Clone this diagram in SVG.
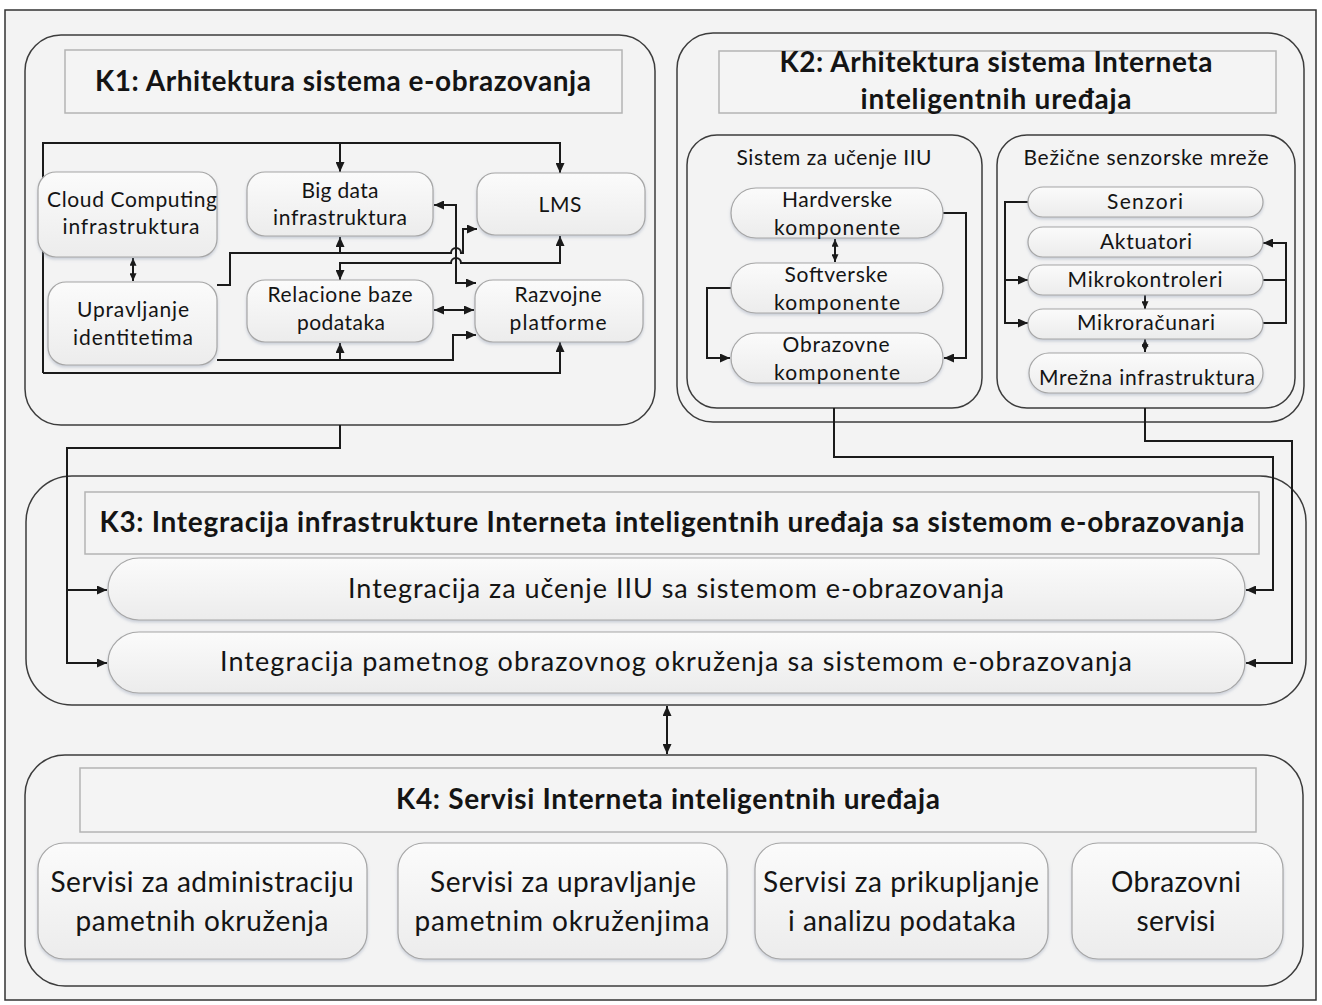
<svg xmlns="http://www.w3.org/2000/svg" width="1322" height="1005" viewBox="0 0 1322 1005">
<defs>
  <linearGradient id="nodeFill" x1="0" y1="0" x2="0" y2="1">
    <stop offset="0" stop-color="#fbfbfb"/>
    <stop offset="1" stop-color="#ececec"/>
  </linearGradient>
  <filter id="shadow" x="-5%" y="-10%" width="110%" height="130%">
    <feDropShadow dx="0" dy="2" stdDeviation="1.5" flood-color="#7d8aa6" flood-opacity="0.35"/>
  </filter>
  <marker id="ah" viewBox="0 0 10 9" refX="10" refY="4.5" markerUnits="userSpaceOnUse" markerWidth="10" markerHeight="9" orient="auto-start-reverse">
    <path d="M0,0 L10,4.5 L0,9 z" fill="#1a1a1a"/>
  </marker>
  <marker id="as" viewBox="0 0 10 9" refX="10" refY="4.5" markerUnits="userSpaceOnUse" markerWidth="8" markerHeight="7" orient="auto-start-reverse">
    <path d="M0,0 L10,4.5 L0,9 z" fill="#1a1a1a"/>
  </marker>
</defs>
<style>
  .frame { fill: #f3f3f3; stroke: #333333; stroke-width: 1.5; }
  .cont { fill: #f3f3f3; stroke: #3c3c3c; stroke-width: 1.5; }
  .sub { fill: #f3f3f3; stroke: #3c3c3c; stroke-width: 1.5; }
  .title { fill: #f4f4f4; stroke: #b4b4b4; stroke-width: 1.5; }
  .node { fill: url(#nodeFill); stroke: #a6a6a6; stroke-width: 1.2; filter: url(#shadow); }
  .conn path { fill: none; stroke: #1a1a1a; stroke-width: 2; }
  text { font-family: Lato, "Open Sans", "Liberation Sans", sans-serif; fill: #141414; text-anchor: middle; }
  .th { font-size: 28px; font-weight: bold; }
  .tm { font-size: 27px; }
  .ts { font-size: 28px; }
  .t1 { font-size: 21px; }
  .t2 { font-size: 21px; }
</style>

<rect class="frame" x="5" y="10" width="1311" height="990"/>

<!-- Containers -->
<g id="K1">
  <rect class="cont" x="25" y="35" width="630" height="390" rx="36"/>
  <rect class="title" x="65" y="50" width="557" height="63"/>
  <text class="th" x="343" y="91" textLength="496">K1: Arhitektura sistema e-obrazovanja</text>
</g>
<g id="K2">
  <rect class="cont" x="677" y="33" width="627" height="389" rx="36"/>
  <rect class="title" x="719" y="51" width="557" height="62"/>
  <text class="th" x="996" y="72" textLength="433">K2: Arhitektura sistema Interneta</text>
  <text class="th" x="996" y="109" textLength="271">inteligentnih uređaja</text>
</g>
<g id="K2a">
  <rect class="sub" x="687" y="135" width="295" height="273" rx="30"/>
  <text class="t2" x="834" y="165" textLength="195">Sistem za učenje IIU</text>
</g>
<g id="K2b">
  <rect class="sub" x="997" y="135" width="298" height="273" rx="30"/>
  <text class="t2" x="1146" y="165" textLength="245">Bežične senzorske mreže</text>
</g>
<g id="K3">
  <rect class="cont" x="26" y="476" width="1280" height="229" rx="46"/>
  <rect class="title" x="85" y="492" width="1174" height="62"/>
  <text class="th" x="672" y="532" textLength="1145">K3: Integracija infrastrukture Interneta inteligentnih uređaja sa sistemom e-obrazovanja</text>
</g>
<g id="K4">
  <rect class="cont" x="25" y="755" width="1278" height="231" rx="40"/>
  <rect class="title" x="80" y="768" width="1176" height="64"/>
  <text class="th" x="668" y="809" textLength="544">K4: Servisi Interneta inteligentnih uređaja</text>
</g>

<!-- Connectors -->
<g id="connectors" class="conn">
  <!-- K1 internal -->
  <path d="M43,373 V143 H560 V173" marker-end="url(#ah)"/>
  <path d="M340,143 V172" marker-end="url(#ah)"/>
  <path d="M43,373 H560 V342" marker-end="url(#ah)"/>
  <path d="M217,285 H230 V253 H451 A5,5 0 0 1 461,253 H463 V229 H477" marker-end="url(#ah)"/>
  <path d="M340,253 V237" marker-end="url(#ah)"/>
  <path d="M340,280 V263 H451 A5,5 0 0 1 461,263 H560 V236" marker-start="url(#ah)" marker-end="url(#ah)"/>
  <path d="M434,205 H456 V283 H476" marker-start="url(#ah)" marker-end="url(#ah)"/>
  <path d="M434,310 H474" marker-start="url(#ah)" marker-end="url(#ah)"/>
  <path d="M217,360 H453 V335 H476" marker-end="url(#ah)"/>
  <path d="M340,360 V343" marker-end="url(#ah)"/>
  <path d="M133,258 V281" marker-start="url(#as)" marker-end="url(#as)"/>
  <!-- K2 internal -->
  <path d="M835,239 V262" marker-start="url(#as)" marker-end="url(#as)"/>
  <path d="M943,213 H966 V358 H944" marker-end="url(#ah)"/>
  <path d="M731,288 H707 V358 H730" marker-end="url(#ah)"/>
  <path d="M1028,202 H1005 V323 H1028" marker-end="url(#ah)"/>
  <path d="M1005,280 H1028" marker-end="url(#ah)"/>
  <path d="M1263,280 H1286"/>
  <path d="M1263,323 H1286 V243 H1263" marker-end="url(#ah)"/>
  <path d="M1145,295 V309" marker-end="url(#as)"/>
  <path d="M1145,339 V352" marker-start="url(#as)" marker-end="url(#as)"/>
  <!-- K1/K2 to K3 -->
  <path d="M340,425 V448 H67 V663 H107" marker-end="url(#ah)"/>
  <path d="M67,590 H107" marker-end="url(#ah)"/>
  <path d="M834,408 V457 H1273 V590 H1246" marker-end="url(#ah)"/>
  <path d="M1145,408 V441 H1292 V663 H1246" marker-end="url(#ah)"/>
  <!-- K3 <-> K4 -->
  <path d="M667,706 V754" marker-start="url(#ah)" marker-end="url(#ah)"/>
</g>

<!-- K1 nodes -->
<g id="cloud">
  <rect class="node" x="38" y="172" width="179" height="85" rx="18"/>
  <text class="t1" x="132" y="207" textLength="170">Cloud Computing</text>
  <text class="t1" x="131" y="234" textLength="137">infrastruktura</text>
</g>
<g id="upravljanje">
  <rect class="node" x="48" y="282" width="169" height="83" rx="18"/>
  <text class="t1" x="133" y="317" textLength="112">Upravljanje</text>
  <text class="t1" x="133" y="345" textLength="120">identitetima</text>
</g>
<g id="bigdata">
  <rect class="node" x="247" y="172" width="186" height="64" rx="18"/>
  <text class="t1" x="340" y="198" textLength="77">Big data</text>
  <text class="t1" x="340" y="225" textLength="134">infrastruktura</text>
</g>
<g id="lms">
  <rect class="node" x="477" y="173" width="168" height="62" rx="18"/>
  <text class="t1" x="560" y="212" textLength="43">LMS</text>
</g>
<g id="relacione">
  <rect class="node" x="247" y="280" width="186" height="62" rx="18"/>
  <text class="t1" x="340" y="302" textLength="145">Relacione baze</text>
  <text class="t1" x="341" y="330" textLength="88">podataka</text>
</g>
<g id="razvojne">
  <rect class="node" x="475" y="280" width="168" height="62" rx="18"/>
  <text class="t1" x="558" y="302" textLength="87">Razvojne</text>
  <text class="t1" x="558" y="330" textLength="97">platforme</text>
</g>

<!-- K2 nodes -->
<g id="hardverske">
  <rect class="node" x="731" y="188" width="212" height="50" rx="25"/>
  <text class="t2" x="837" y="207" textLength="110">Hardverske</text>
  <text class="t2" x="837" y="235" textLength="126">komponente</text>
</g>
<g id="softverske">
  <rect class="node" x="731" y="263" width="212" height="50" rx="25"/>
  <text class="t2" x="836" y="282" textLength="103">Softverske</text>
  <text class="t2" x="837" y="310" textLength="126">komponente</text>
</g>
<g id="obrazovne">
  <rect class="node" x="731" y="333" width="212" height="50" rx="25"/>
  <text class="t2" x="836" y="352" textLength="107">Obrazovne</text>
  <text class="t2" x="837" y="380" textLength="126">komponente</text>
</g>
<g id="senzori">
  <rect class="node" x="1028" y="187" width="235" height="30" rx="15"/>
  <text class="t2" x="1145" y="209" textLength="76">Senzori</text>
</g>
<g id="aktuatori">
  <rect class="node" x="1028" y="227" width="235" height="30" rx="15"/>
  <text class="t2" x="1146" y="249" textLength="92">Aktuatori</text>
</g>
<g id="mikrokontroleri">
  <rect class="node" x="1028" y="265" width="235" height="30" rx="15"/>
  <text class="t2" x="1145" y="287" textLength="155">Mikrokontroleri</text>
</g>
<g id="mikroracunari">
  <rect class="node" x="1028" y="309" width="235" height="30" rx="15"/>
  <text class="t2" x="1146" y="330" textLength="138">Mikroračunari</text>
</g>
<g id="mrezna">
  <rect class="node" x="1029" y="353" width="234" height="40" rx="20"/>
  <text class="t2" x="1147" y="385" textLength="216">Mrežna infrastruktura</text>
</g>

<!-- K3 nodes -->
<g id="integracija-iiu">
  <rect class="node" x="108" y="558" width="1137" height="62" rx="31"/>
  <text class="tm" x="676" y="598" textLength="656">Integracija za učenje IIU sa sistemom e-obrazovanja</text>
</g>
<g id="integracija-pametnog">
  <rect class="node" x="108" y="632" width="1137" height="61" rx="31"/>
  <text class="tm" x="676" y="671" textLength="912">Integracija pametnog obrazovnog okruženja sa sistemom e-obrazovanja</text>
</g>

<!-- K4 nodes -->
<g id="servis-admin">
  <rect class="node" x="38" y="843" width="329" height="116" rx="26"/>
  <text class="ts" x="202" y="892" textLength="303">Servisi za administraciju</text>
  <text class="ts" x="202" y="931" textLength="253">pametnih okruženja</text>
</g>
<g id="servis-upravljanje">
  <rect class="node" x="398" y="843" width="329" height="116" rx="26"/>
  <text class="ts" x="563" y="892" textLength="266">Servisi za upravljanje</text>
  <text class="ts" x="562" y="931" textLength="295">pametnim okruženjima</text>
</g>
<g id="servis-prikupljanje">
  <rect class="node" x="755" y="843" width="293" height="116" rx="26"/>
  <text class="ts" x="901" y="892" textLength="276">Servisi za prikupljanje</text>
  <text class="ts" x="902" y="931" textLength="228">i analizu podataka</text>
</g>
<g id="servis-obrazovni">
  <rect class="node" x="1072" y="843" width="211" height="116" rx="26"/>
  <text class="ts" x="1176" y="892" textLength="130">Obrazovni</text>
  <text class="ts" x="1176" y="931" textLength="79">servisi</text>
</g>
</svg>
